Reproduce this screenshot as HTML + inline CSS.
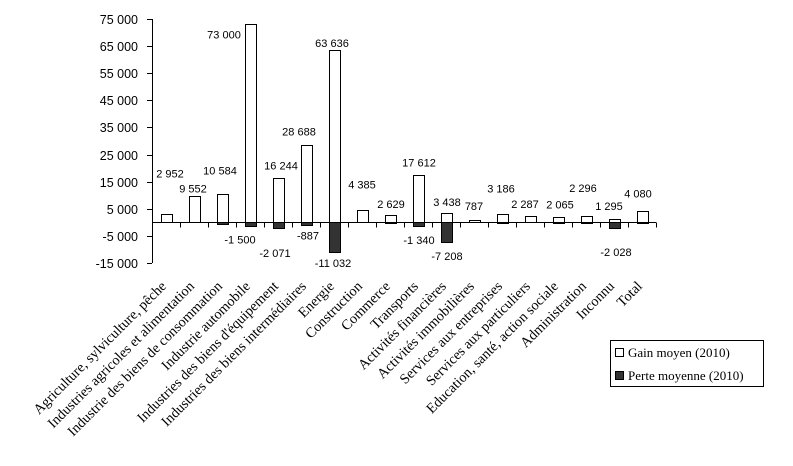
<!DOCTYPE html>
<html><head><meta charset="utf-8"><style>
html,body{margin:0;padding:0;background:#fff;}
svg{display:block;}
.tick{font-family:"Liberation Sans",sans-serif;font-size:12.5px;fill:#000;}
.val{font-family:"Liberation Sans",sans-serif;font-size:11px;fill:#000;}
.cat{font-family:"Liberation Serif",serif;font-size:14.3px;fill:#000;}
.leg{font-family:"Liberation Serif",serif;font-size:13px;fill:#000;}
</style></head><body>
<svg id="chart" width="793" height="466" viewBox="0 0 793 466"></svg>
<script>
const categories=["Agriculture, sylviculture, pêche","Industries agricoles et alimentation","Industrie des biens de consommation","Industrie automobile","Industries des biens d'équipement","Industries des biens intermédiaires","Energie","Construction","Commerce","Transports","Activités financières","Activités immobilières","Services aux entreprises","Services aux particuliers","Education, santé, action sociale","Administration","Inconnu","Total"];
const gainValues=[2952,9552,10584,73000,16244,28688,63636,4385,2629,17612,3438,787,3186,2287,2065,2296,1295,4080];
const lossValues=[0,0,-500,-1500,-2071,-887,-11032,0,-300,-1340,-7208,0,-400,0,-300,-300,-2028,-400];
const gainLabels=["2 952","9 552","10 584","73 000","16 244","28 688","63 636","4 385","2 629","17 612","3 438","787","3 186","2 287","2 065","2 296","1 295","4 080"];
const lossLabels=["","","","-1 500","-2 071","-887","-11 032","","","-1 340","-7 208","","","","","","-2 028",""];
const yTicks=[75000,65000,55000,45000,35000,25000,15000,5000,-5000,-15000];
const yTickLabels=["75 000","65 000","55 000","45 000","35 000","25 000","15 000","5 000","-5 000","-15 000"];
// label placement offsets relative to bar end (layout, not data)
const gainLabelOff=[[4,-37],[-1,-4],[-2,-19],[-26,14],[3,-9],[-7,-9],[-2,-3],[0,-22],[1,-7],[1,-8],[1,-7],[0,-10],[-1,-21],[-5,-8],[2,-8],[-3,-24],[-5,-9],[-4,-14]];
const lossLabelOff=[[0,14],[0,14],[0,14],[-10,17],[-3,29],[2,15],[-1,15],[0,14],[0,14],[1,18],[1,18],[0,14],[0,14],[0,14],[0,14],[0,14],[2,28],[0,14]];
const NS="http://www.w3.org/2000/svg";
const svg=document.getElementById('chart');
const X0=152,STEP=28.0,BW=11,YTOP=19,YBOT=263,VMAX=75000,VMIN=-15000;
function y(v){return YTOP+(VMAX-v)*(YBOT-YTOP)/(VMAX-VMIN);}
function xc(i){return X0+STEP*(i+0.5);}
function mk(tag,attrs,parent){const e=document.createElementNS(NS,tag);for(const k in attrs)e.setAttribute(k,attrs[k]);(parent||svg).appendChild(e);return e;}
const ax=mk('line',{x1:X0+0.5,y1:YTOP,x2:X0+0.5,y2:YBOT,stroke:'#000'});


yTicks.forEach((v,i)=>{
  const yy=Math.round(y(v))+0.5;
  const t=mk('line',{x1:X0-5,y1:yy,x2:X0,y2:yy,stroke:'#000'});
  
  
  const tx=mk('text',{x:X0-14,y:yy+4.5,'text-anchor':'end',class:'tick'});
  tx.textContent=yTickLabels[i];
  
  
});
categories.forEach((c,i)=>{
  const cx=xc(i);
  const g=gainValues[i];
  const gb=mk('rect',{x:Math.round(cx-BW/2)+0.5,y:Math.round(y(g))+0.5,width:BW,height:Math.max(0,Math.round(y(0))-Math.round(y(g))),fill:'#fff',stroke:'#000'});
  
  
  const l=lossValues[i];
  if(l<0){
    const lb=mk('rect',{x:Math.round(cx-BW/2)+0.5,y:Math.round(y(0))+0.5,width:BW,height:Math.max(1,Math.round(y(l))-Math.round(y(0))),fill:'#333',stroke:'#000'});
    
    
  }
  const o=gainLabelOff[i];
  const gl=mk('text',{x:cx+o[0],y:y(g)+o[1],'text-anchor':'middle',class:'val'});
  gl.textContent=gainLabels[i];
  
  
  if(lossLabels[i]){
    const lo=lossLabelOff[i];
    const ll=mk('text',{x:cx+lo[0],y:y(l)+lo[1],'text-anchor':'middle',class:'val'});
    ll.textContent=lossLabels[i];
    
    
  }
  const cl=mk('text',{x:0,y:0,'text-anchor':'end',class:'cat',transform:'translate('+(cx+1)+','+287+') rotate(-45)'});
  cl.textContent=c;
  
  
});
const y0=Math.round(y(0))+0.5;
const xa=mk('line',{x1:X0,y1:y0,x2:X0+STEP*categories.length,y2:y0,stroke:'#000'});


for(let i=1;i<=categories.length;i++){
  const xx=Math.round(X0+STEP*i)+0.5;
  const t=mk('line',{x1:xx,y1:y0,x2:xx,y2:y0+5,stroke:'#000'});
  
  
}
const lg=mk('g',{});


mk('rect',{x:610.5,y:340.5,width:153,height:46,fill:'#fff',stroke:'#000'},lg);
const e1=mk('rect',{x:615.5,y:348.5,width:8,height:8,fill:'#fff',stroke:'#000'},lg);


const t1=mk('text',{x:628,y:357,class:'leg'},lg);t1.textContent='Gain moyen (2010)';


const e2=mk('rect',{x:615.5,y:371.5,width:8,height:8,fill:'#333',stroke:'#000'},lg);


const t2=mk('text',{x:628,y:380,class:'leg'},lg);t2.textContent='Perte moyenne (2010)';


</script>
</body></html>
